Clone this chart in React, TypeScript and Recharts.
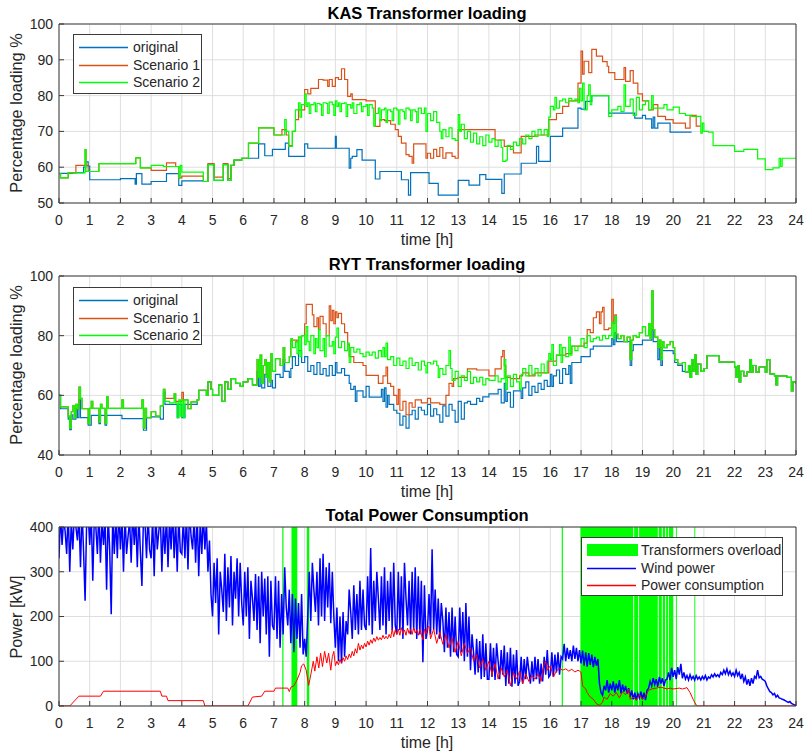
import React from 'react';
import {
  ComposedChart,
  Line,
  XAxis,
  YAxis,
  CartesianGrid,
  ReferenceArea,
  ReferenceLine
} from 'recharts';

type Pt = [number, number];

const FONT = '"Liberation Sans", Arial, Helvetica, sans-serif';
const INK = '#262626';
const AXIS = '#3a3a3a';
const GRID = '#dedede';

const C_ORIG = '#0072BD';
const C_S1 = '#D95319';
const C_S2 = '#00FF00';
const C_WIND = '#0000FF';
const C_LOAD = '#FF0000';
const C_OVER = '#00FF00';

const hourTicks = [0, 1, 2, 3, 4, 5, 6, 7, 8, 9, 10, 11, 12, 13, 14, 15, 16, 17, 18, 19, 20, 21, 22, 23, 24];
const kasTicks = [50, 60, 70, 80, 90, 100];
const rytTicks = [40, 60, 80, 100];
const powerTicks = [0, 100, 200, 300, 400];

// ---- KAS transformer loading [%] (time [h], value) ----
const kasOriginal: Pt[] = [
  [0, 58.3], [0.45, 58.5], [0.8, 60], [0.87, 61.5], [0.95, 60.3], [1.0, 56.5], [2.0, 56.8], [2.48, 55.3],
  [2.52, 58.2], [2.7, 55.3], [3.0, 56], [3.5, 58.2], [3.9, 54.9], [4.0, 56.2], [4.7, 56], [4.85, 60.7],
  [5.05, 56.3], [5.35, 60.7], [5.5, 56.3], [5.6, 60.5], [5.7, 62], [5.95, 62.5], [6.5, 66.5], [6.7, 63.2],
  [6.95, 65], [7.37, 66.7], [7.48, 63], [8.0, 66.5], [8.1, 65.3], [9.0, 68.6], [9.03, 65.3], [9.45, 59.7],
  [9.5, 62.5], [9.55, 63], [9.7, 64.9], [9.87, 62], [10.3, 56.7], [10.45, 58.8], [11.15, 56.5], [11.38, 52.2],
  [11.45, 58.5], [12.05, 55.5], [12.35, 52.2], [13, 56.3], [13.35, 55], [13.7, 57.9], [13.9, 56.6], [14.42, 52.7],
  [14.5, 58.1], [15.05, 61.1], [15.55, 65.8], [15.62, 61.6], [16, 68.6], [16.4, 70.9], [16.9, 76.5], [17, 76.2],
  [17.15, 78.4], [17.35, 80], [17.9, 75.1], [18.75, 73.7], [19, 74.5], [19.1, 73.5], [19.3, 70.9], [19.35, 74],
  [19.4, 70.9], [19.5, 72.3], [19.9, 69.8], [20.6, 69.8]
];

const kasScenario1: Pt[] = [
  [0, 58.2], [0.05, 57], [0.3, 58.4], [0.55, 60.5], [0.85, 64.9], [0.88, 60.5], [0.95, 58.8], [1.3, 61],
  [2.5, 62.6], [2.65, 59.8], [3.0, 59.1], [3.5, 61.2], [3.8, 60.2], [3.9, 57], [4.0, 57.5], [4.7, 56],
  [4.85, 61], [5.05, 57.2], [5.35, 61], [5.5, 56.8], [5.6, 60.5], [5.7, 62], [5.95, 62.5], [6.17, 66.7],
  [6.5, 71], [7.0, 69], [7.26, 70.5], [7.4, 69], [7.48, 66], [7.6, 70], [7.7, 73.3], [7.8, 76],
  [8.0, 81.7], [8.1, 80.5], [8.2, 82], [8.45, 84.5], [8.6, 84.3], [8.75, 82.6], [8.8, 84.5], [8.9, 82.6],
  [9.0, 85], [9.1, 84.5], [9.2, 87.5], [9.3, 84.5], [9.4, 79.8], [9.5, 80.5], [9.55, 78.9], [10.0, 78.5],
  [10.3, 71.4], [10.45, 73.3], [10.6, 73], [10.8, 72], [10.95, 70.5], [11.05, 68.6], [11.15, 66.7], [11.3, 63.5],
  [11.4, 63], [11.5, 61.1], [11.55, 66.5], [11.95, 62.5], [12.0, 63.9], [12.1, 62.5], [12.2, 65], [12.3, 63],
  [12.4, 65.5], [12.5, 62.5], [12.6, 64], [12.8, 63], [12.9, 62.5], [13.0, 70.5], [13.65, 70.5], [14.2, 67.6],
  [14.5, 65.8], [14.8, 64], [15.05, 68.6], [15.5, 69], [15.95, 73.3], [16.2, 75], [16.4, 77], [16.6, 78.5],
  [16.9, 83.5], [17.0, 92.4], [17.05, 86], [17.1, 89.6], [17.25, 86.4], [17.35, 92.9], [17.5, 91], [17.7, 89.5],
  [17.85, 88.2], [17.9, 86.4], [18.1, 84.5], [18.4, 87.8], [18.45, 84], [18.6, 87], [18.7, 83.5], [18.85, 80.5],
  [19.0, 78.5], [19.2, 76], [19.35, 77.5], [19.5, 74.2], [19.75, 73.3], [20.0, 72.3], [20.2, 72.3], [20.4, 70.9],
  [20.55, 74.5], [20.75, 71.5], [20.9, 71.5]
];

const kasScenario2: Pt[] = [
  [0, 58.2], [0.05, 57], [0.3, 58.4], [0.85, 64.9], [0.88, 58.8], [1.3, 61], [2.5, 62.6], [2.65, 59.8],
  [3.0, 60.5], [3.4, 60.2], [3.9, 57], [3.95, 60.5], [4.0, 58.6], [4.7, 56], [4.85, 60.7], [5.05, 56.3],
  [5.35, 60.7], [5.5, 56.3], [5.6, 60.5], [5.7, 62], [5.95, 62.5], [6.17, 66.7], [6.5, 71], [7.0, 69],
  [7.35, 73.3], [7.4, 70], [7.48, 65.8], [7.6, 70], [7.7, 76], [7.8, 78], [7.85, 74], [7.9, 77.5],
  [8.0, 80.5], [8.05, 77], [8.1, 78], [8.15, 75], [8.2, 77.5], [8.3, 78], [8.35, 75.5], [8.4, 77.8],
  [8.5, 77.5], [8.55, 74.5], [8.6, 78], [8.7, 77.8], [8.75, 75], [8.8, 78.2], [8.9, 77.5], [8.95, 74.5],
  [9.0, 78.5], [9.05, 77], [9.1, 78], [9.15, 75.5], [9.2, 77.8], [9.3, 78], [9.35, 74.2], [9.4, 77.5],
  [9.5, 76.5], [9.55, 78], [9.6, 75], [9.7, 77.5], [9.8, 78], [9.85, 75.5], [9.9, 77], [10.0, 77.5],
  [10.05, 74.5], [10.1, 77.5], [10.2, 76.5], [10.25, 71.5], [10.3, 75], [10.4, 76.5], [10.45, 73], [10.5, 76],
  [10.6, 76.5], [10.65, 72.5], [10.7, 76], [10.8, 75.5], [10.85, 73], [10.9, 76.5], [11.0, 76], [11.05, 72],
  [11.1, 76], [11.2, 75.5], [11.25, 73.5], [11.3, 76.5], [11.4, 76], [11.45, 73], [11.5, 76], [11.6, 75.5],
  [11.65, 72.5], [11.7, 76.5], [11.8, 75], [11.9, 76.5], [11.95, 70], [12.0, 75], [12.1, 73], [12.2, 75.5],
  [12.3, 72.5], [12.4, 70], [12.45, 68], [12.5, 70.5], [12.6, 68.5], [12.7, 71], [12.8, 68], [12.9, 67.5],
  [13.0, 74.7], [13.05, 70], [13.1, 72], [13.2, 68], [13.3, 70], [13.4, 67], [13.5, 69.5], [13.6, 66.5],
  [13.7, 68.5], [13.8, 66], [13.9, 69], [14.0, 67], [14.1, 68], [14.2, 65.8], [14.3, 67.5], [14.4, 65.5],
  [14.45, 61.6], [14.55, 62], [14.6, 66], [14.7, 65], [14.8, 67], [14.9, 66], [15.0, 68], [15.1, 66.5],
  [15.2, 69], [15.3, 68], [15.4, 70], [15.5, 68.6], [15.6, 70.5], [15.7, 69], [15.8, 70.5], [15.9, 68.6],
  [15.95, 74], [16.0, 77], [16.1, 76], [16.15, 79.5], [16.2, 76.5], [16.3, 78.5], [16.4, 79], [16.5, 78],
  [16.6, 79.2], [16.7, 78.5], [16.8, 79], [16.9, 78], [16.95, 82], [17.0, 78.5], [17.05, 83.5], [17.1, 76],
  [17.2, 80], [17.25, 83], [17.3, 77.5], [17.35, 80], [17.9, 74.2], [18.0, 76], [18.2, 77], [18.3, 75.5],
  [18.4, 83], [18.45, 77], [18.6, 79], [18.7, 74.5], [18.8, 79.5], [18.9, 76], [19.0, 77.5], [19.1, 78.5],
  [19.2, 76], [19.3, 80], [19.35, 76.5], [19.5, 76.5], [19.7, 77.5], [19.8, 76], [20.0, 76.8], [20.2, 75],
  [20.4, 74.5], [20.6, 74.2], [20.9, 69.5], [20.95, 72.3], [21.0, 70], [21.15, 69.8], [21.3, 66], [22.0, 64.4],
  [22.3, 65], [22.75, 62.3], [23.0, 59.3], [23.25, 59.8], [23.45, 62.5], [23.5, 60.2], [23.55, 62.5], [24, 62.5]
];

// ---- RYT transformer loading [%] ----
const rytScenario2: Pt[] = [
  [0, 60], [0.05, 56.1], [0.3, 53], [0.35, 49], [0.4, 54.5], [0.45, 56.5], [0.5, 52.5], [0.55, 57],
  [0.6, 55.5], [0.65, 62.8], [0.7, 59], [0.75, 55.5], [0.95, 50.5], [1.0, 55.6], [1.05, 58], [1.1, 55.6],
  [1.3, 51], [1.35, 57], [1.4, 55.6], [1.5, 50.5], [1.55, 59.5], [1.6, 55.6], [2.05, 58.5], [2.1, 55.6],
  [2.7, 58.5], [2.75, 49], [2.8, 55.6], [2.85, 52.5], [3.0, 54.5], [3.15, 53], [3.3, 56.5], [3.4, 62],
  [3.45, 58], [3.6, 57.5], [3.75, 60.5], [3.8, 57.5], [3.85, 52.5], [3.9, 58.5], [3.95, 53], [4.0, 58.5],
  [4.05, 52.5], [4.1, 58.5], [4.2, 55.5], [4.3, 57.8], [4.5, 58.5], [4.55, 61.7], [4.8, 60], [4.85, 64.5],
  [4.95, 62], [5.0, 60], [5.2, 63.5], [5.3, 58], [5.4, 64.5], [5.5, 62], [5.6, 65.6], [5.75, 64],
  [5.9, 63], [6.0, 64.5], [6.15, 65.6], [6.3, 63.5], [6.45, 72], [6.5, 66], [6.55, 73.5], [6.6, 64],
  [6.65, 70], [6.7, 72], [6.75, 66], [6.8, 71], [6.85, 64.5], [6.9, 74], [6.95, 68], [7.05, 72.3],
  [7.2, 70], [7.3, 76], [7.35, 71], [7.5, 73], [7.55, 79], [7.6, 76], [7.7, 78], [7.75, 74],
  [7.8, 79.5], [7.85, 73], [7.9, 80], [8.0, 77], [8.05, 83], [8.1, 78], [8.15, 75], [8.2, 80],
  [8.3, 74], [8.35, 79], [8.4, 76], [8.45, 82], [8.5, 75], [8.6, 79], [8.65, 73], [8.7, 80],
  [8.8, 76.5], [8.9, 78], [8.95, 74], [9.0, 79.5], [9.05, 82.5], [9.1, 76], [9.2, 78], [9.3, 75],
  [9.4, 77.5], [9.45, 71], [9.5, 76], [9.6, 74.5], [9.7, 75.5], [9.8, 74], [9.9, 73], [10.0, 74.5],
  [10.1, 73.5], [10.2, 74.5], [10.3, 72.5], [10.4, 75], [10.5, 73], [10.55, 76], [10.6, 73], [10.65, 77.5],
  [10.7, 72], [10.8, 73], [10.9, 70], [11.0, 72.5], [11.1, 70], [11.2, 71.5], [11.3, 69], [11.4, 72.5],
  [11.5, 70], [11.6, 71], [11.7, 68.5], [11.8, 71.5], [11.9, 70], [11.95, 67.5], [12.0, 71], [12.1, 70.5],
  [12.2, 71.5], [12.3, 70], [12.35, 66], [12.4, 69], [12.5, 67], [12.6, 70], [12.7, 75], [12.75, 69],
  [12.8, 65], [12.9, 68], [13.0, 63], [13.1, 66.5], [13.2, 65], [13.3, 68], [13.4, 64], [13.5, 66],
  [13.6, 64.5], [13.7, 66], [13.8, 63.5], [13.9, 65.6], [14.0, 65], [14.2, 66.5], [14.3, 64.5], [14.4, 65.6],
  [14.5, 72], [14.55, 62], [14.6, 66.5], [14.7, 63], [14.8, 67], [14.9, 64.5], [15.0, 62], [15.05, 67],
  [15.1, 69], [15.2, 66.5], [15.3, 70], [15.4, 67], [15.5, 69], [15.6, 66.5], [15.7, 70.5], [15.8, 67.5],
  [15.9, 71.5], [15.95, 74], [16.0, 72], [16.05, 77], [16.1, 70], [16.2, 73.5], [16.3, 77], [16.35, 71],
  [16.4, 76], [16.5, 73], [16.6, 79.5], [16.65, 73.5], [16.7, 76.5], [16.8, 75], [16.9, 76.5], [17.0, 79],
  [17.1, 76], [17.2, 80], [17.3, 78], [17.4, 79], [17.5, 79.5], [17.6, 78.5], [17.7, 80], [17.8, 79],
  [17.9, 80], [18.0, 84.5], [18.05, 79], [18.1, 86.5], [18.15, 80.5], [18.2, 79], [18.3, 80], [18.4, 78],
  [18.5, 79.5], [18.6, 72], [18.65, 78.5], [18.7, 80], [18.8, 79.5], [18.9, 81], [19.0, 83], [19.1, 80],
  [19.2, 84], [19.25, 79], [19.3, 95], [19.35, 82], [19.4, 79.5], [19.5, 76], [19.55, 78.5], [19.6, 72],
  [19.65, 78], [19.7, 76], [19.8, 77], [19.9, 78], [20.0, 76], [20.05, 72], [20.15, 70.5], [20.3, 71],
  [20.4, 67.8], [20.5, 70], [20.55, 66], [20.6, 72], [20.65, 68], [20.7, 73.5], [20.75, 67], [20.8, 70.5],
  [20.9, 68], [21.0, 69], [21.1, 73.3], [21.5, 71.1], [22.0, 69.5], [22.05, 66], [22.1, 70], [22.15, 64.5],
  [22.2, 68], [22.3, 66.5], [22.4, 67.8], [22.5, 72], [22.55, 67.8], [22.6, 70], [22.7, 67.8], [22.8, 69.5],
  [23.0, 67.8], [23.05, 72], [23.15, 67.2], [23.3, 66.5], [23.35, 63.5], [23.4, 66.5], [23.7, 66], [23.85, 61.5],
  [23.9, 64.5], [24, 64]
];

// stretches where the original run sits below Scenario 2
const rytOriginalEarly: Pt[] = [
  [0, 60], [0.05, 55.5], [0.3, 52], [0.35, 48.5], [0.4, 53.5], [0.45, 52], [0.55, 55.5], [0.6, 52.5],
  [0.65, 58.5], [0.7, 52.5], [0.95, 50], [1.05, 53.3], [1.3, 50.5], [1.35, 53.3], [1.5, 50], [1.55, 53.3],
  [2.05, 52.2], [2.75, 48.3], [2.85, 52.5], [3.0, 52.8], [3.3, 52], [3.4, 61], [3.45, 57], [3.85, 52.5],
  [3.9, 57], [4.0, 52.5], [4.1, 57], [4.5, 58.5]
];

const rytOriginalDay: Pt[] = [
  [6.45, 68], [6.5, 63], [6.55, 66], [6.6, 62.5], [6.7, 67], [6.8, 63], [6.9, 65], [6.95, 62.5],
  [7.05, 67], [7.2, 66], [7.3, 72], [7.35, 68], [7.5, 66], [7.55, 69], [7.6, 73], [7.7, 70],
  [7.8, 75], [7.9, 71], [8.0, 73], [8.1, 68], [8.2, 70], [8.3, 67], [8.4, 71], [8.5, 67],
  [8.6, 69], [8.7, 66.5], [8.8, 70], [8.9, 66.7], [9.0, 71], [9.05, 67.5], [9.2, 69], [9.3, 66.7],
  [9.45, 64], [9.5, 62], [9.6, 63], [9.65, 58], [9.7, 61.5], [9.9, 59.4], [10.0, 63], [10.1, 59.4],
  [10.5, 62], [10.55, 58], [10.6, 62.5], [10.65, 56], [10.7, 60], [10.75, 57], [10.9, 55], [11.0, 54],
  [11.1, 50], [11.2, 53], [11.3, 49], [11.4, 53.5], [11.5, 55], [11.6, 52], [11.7, 56], [11.8, 55],
  [11.9, 53.5], [12.0, 57], [12.1, 53], [12.2, 55.5], [12.3, 53.5], [12.4, 51], [12.5, 56.5], [12.6, 53],
  [12.7, 57], [12.8, 55], [12.9, 51], [13.0, 58], [13.1, 52], [13.2, 57.5], [13.3, 58], [13.4, 57],
  [13.6, 59], [13.7, 58], [13.8, 59.5], [14.0, 60.5], [14.3, 62], [14.4, 57.5], [14.5, 64], [14.55, 58],
  [14.6, 61], [14.7, 56], [14.8, 61.5], [15.0, 61.5], [15.05, 59], [15.1, 62.5], [15.2, 64.5], [15.3, 60],
  [15.4, 63], [15.5, 61], [15.6, 64], [15.7, 62], [15.8, 65], [15.9, 63], [16.0, 67], [16.05, 63],
  [16.1, 66.5], [16.2, 68.5], [16.3, 64], [16.4, 69], [16.5, 67], [16.6, 70], [16.65, 64], [16.7, 71],
  [17.0, 73], [17.3, 75.5], [17.4, 76.5], [18.0, 79], [18.05, 77], [18.1, 81], [18.15, 78], [18.3, 78],
  [18.6, 70], [18.65, 75], [18.7, 77], [19.0, 78.5], [19.3, 82], [19.35, 78], [19.5, 72], [19.55, 76],
  [19.6, 70], [19.65, 75], [19.8, 75], [20.0, 74], [20.05, 71], [20.15, 70], [20.3, 68], [20.4, 67.8]
];

// stretches where Scenario 1 departs from Scenario 2
const rytScenario1Early: Pt[] = [
  [3.35, 56.5], [3.4, 62], [3.45, 59], [3.75, 60.5], [3.8, 58], [4.0, 61], [4.05, 58.5]
];

const rytScenario1Day: Pt[] = [
  [7.5, 73], [7.55, 78.5], [7.75, 78], [7.8, 79.5], [7.9, 80], [8.0, 84], [8.05, 90.5], [8.25, 87],
  [8.3, 83], [8.4, 86], [8.45, 82], [8.5, 86.5], [8.6, 84], [8.7, 80], [8.8, 90], [8.85, 85],
  [8.9, 88.5], [8.95, 84], [9.0, 88], [9.05, 86], [9.1, 87.5], [9.2, 84], [9.3, 81], [9.4, 77],
  [9.45, 73], [9.6, 71], [9.9, 70], [10.0, 66.7], [10.4, 64], [10.55, 66.5], [10.65, 69.5], [10.7, 64],
  [10.8, 63], [10.9, 60], [11.0, 57], [11.05, 62], [11.1, 55], [11.2, 58], [11.3, 53.5], [11.4, 57.5],
  [11.5, 56], [11.6, 58.5], [11.8, 57.5], [12.0, 59], [12.1, 57.5], [12.4, 57], [12.6, 60], [12.7, 64],
  [12.8, 63], [12.85, 65.6], [13.0, 66], [13.3, 68.9], [13.6, 68.5], [14.0, 66.5], [14.2, 68.9], [14.4, 73],
  [14.45, 75], [14.5, 70], [14.55, 66], [14.7, 65.6], [15.0, 66.5], [15.1, 67.5], [15.3, 66.5], [15.5, 67.5],
  [15.95, 71.5], [16.2, 73.5], [16.5, 74], [16.7, 76.5], [17.1, 77.5], [17.2, 82], [17.3, 81], [17.4, 86],
  [17.5, 88], [17.6, 84], [17.65, 88], [17.7, 89.5], [17.75, 82], [17.9, 82.5], [18.0, 92.2], [18.05, 84],
  [18.1, 87], [18.15, 80.5], [18.2, 79]
];

// ---- Total power [kW] ----
// wind power sampled every 3 minutes (0.05 h), one row per hour
const windPower: number[] = [
  330, 430, 360, 420, 390, 340, 440, 300, 415, 350, 430, 400, 370, 425, 310, 440, 345, 235, 410, 430,
  360, 430, 280, 420, 400, 340, 440, 320, 415, 360, 420, 260, 430, 350, 205, 425, 340, 420, 330, 440,
  350, 420, 300, 430, 340, 380, 415, 320, 440, 360, 420, 310, 430, 345, 268, 420, 410, 330, 430, 350,
  330, 420, 290, 440, 350, 390, 425, 300, 410, 340, 430, 310, 420, 350, 440, 330, 415, 300, 430, 345,
  340, 420, 330, 430, 305, 440, 380, 350, 420, 320, 430, 290, 415, 340, 430, 350, 410, 300, 370, 250,
  200, 320, 230, 330, 160, 300, 260, 210, 340, 190, 310, 220, 335, 180, 300, 240, 330, 200, 320, 230,
  180, 300, 200, 310, 150, 280, 240, 190, 295, 170, 290, 140, 300, 200, 285, 160, 290, 110, 280, 180,
  170, 290, 150, 280, 130, 250, 160, 310, 220, 180, 260, 140, 250, 120, 240, 150, 230, 130, 250, 115,
  150, 110, 200, 300, 190, 320, 260, 210, 300, 180, 330, 200, 340, 190, 310, 220, 320, 185, 300, 200,
  130, 220, 100, 200, 95, 210, 110, 190, 160, 260, 210, 150, 270, 170, 250, 160, 280, 170, 260, 180,
  170, 290, 180, 353, 160, 280, 190, 300, 240, 170, 290, 180, 310, 160, 280, 190, 300, 170, 320, 180,
  160, 300, 170, 290, 150, 320, 240, 180, 280, 160, 300, 170, 310, 150, 290, 160, 280, 98, 270, 150,
  170, 250, 160, 350, 170, 260, 160, 240, 150, 230, 190, 120, 220, 130, 210, 110, 220, 120, 200, 115,
  110, 220, 120, 210, 100, 230, 110, 200, 80, 160, 120, 70, 150, 75, 145, 60, 160, 65, 140, 60,
  60, 140, 65, 130, 58, 140, 100, 60, 125, 70, 135, 45, 120, 50, 130, 43, 115, 50, 125, 45,
  55, 110, 50, 105, 60, 110, 80, 50, 100, 55, 110, 60, 105, 50, 95, 55, 110, 70, 125, 65,
  70, 120, 65, 115, 75, 120, 70, 110, 105, 139, 100, 130, 105, 125, 100, 135, 105, 130, 100, 125,
  95, 124, 90, 120, 88, 118, 92, 115, 87, 110, 90, 105, 50, 30, 24, 45, 35, 58, 30, 50,
  35, 55, 30, 50, 35, 58, 28, 48, 32, 45, 28, 40, 20, 35, 15, 30, 13, 28, 18, 32,
  15, 30, 13, 35, 40, 55, 45, 62, 48, 60, 43, 65, 50, 62, 45, 58, 60, 75, 58, 85,
  65, 80, 60, 87, 70, 94, 62, 75, 60, 68, 58, 70, 60, 66, 58, 68, 60, 65, 58, 66,
  60, 68, 58, 65, 62, 70, 65, 72, 66, 70, 65, 75, 70, 80, 72, 83, 70, 78, 68, 74,
  66, 80, 68, 75, 60, 72, 55, 65, 48, 60, 45, 62, 50, 66, 62, 80, 63, 66, 60, 58,
  55, 45, 38, 32, 30, 25, 28, 20, 24, 18, 17, 15, 14, 12, 10, 8, 10, 6, 4, 2,
  2
];
const WIND_STEP = 0.05;

const consumption: Pt[] = [
  [0, 0], [0.35, 0], [0.65, 22], [1.35, 22], [1.45, 33], [3.3, 33], [3.35, 22], [3.5, 22],
  [3.55, 12], [4.7, 12], [4.75, 0], [6.15, 0], [6.3, 20], [6.6, 22], [6.7, 33], [7.0, 33],
  [7.05, 40], [7.45, 40], [7.5, 32], [7.55, 42], [7.65, 45], [7.75, 58], [7.85, 75], [7.9, 90],
  [7.97, 94], [8.05, 80], [8.13, 46], [8.2, 70], [8.28, 100], [8.33, 78], [8.4, 110], [8.46, 85],
  [8.52, 118], [8.58, 88], [8.65, 122], [8.72, 96], [8.78, 118], [8.85, 80], [8.9, 110], [8.95, 122],
  [9.0, 90], [9.05, 100], [9.1, 92], [9.15, 104], [9.2, 96], [9.25, 108], [9.3, 100], [9.35, 112],
  [9.4, 104], [9.45, 116], [9.5, 108], [9.55, 122], [9.6, 112], [9.65, 128], [9.7, 118], [9.75, 140],
  [9.8, 125], [9.85, 136], [9.9, 128], [9.95, 140], [10.0, 132], [10.05, 145], [10.1, 136], [10.15, 148],
  [10.2, 140], [10.25, 152], [10.3, 144], [10.35, 155], [10.4, 147], [10.45, 153], [10.5, 148], [10.55, 158],
  [10.6, 150], [10.65, 156], [10.7, 150], [10.75, 160], [10.8, 152], [10.85, 172], [10.9, 155], [10.95, 170],
  [11.0, 160], [11.05, 172], [11.1, 158], [11.15, 175], [11.2, 162], [11.25, 170], [11.3, 158], [11.35, 174],
  [11.4, 162], [11.45, 172], [11.5, 160], [11.55, 175], [11.6, 163], [11.65, 170], [11.7, 158], [11.75, 172],
  [11.8, 160], [11.85, 148], [11.9, 172], [11.95, 160], [12.0, 175], [12.05, 178], [12.1, 150], [12.2, 172],
  [12.3, 140], [12.4, 165], [12.5, 138], [12.6, 160], [12.7, 130], [12.8, 152], [12.9, 120], [13.0, 145],
  [13.1, 112], [13.2, 140], [13.3, 118], [13.4, 130], [13.5, 100], [13.6, 115], [13.7, 85], [13.8, 105],
  [13.9, 80], [14.0, 100], [14.1, 70], [14.2, 95], [14.3, 60], [14.4, 85], [14.5, 65], [14.6, 80],
  [14.7, 45], [14.8, 75], [14.9, 60], [15.0, 78], [15.1, 50], [15.2, 72], [15.3, 55], [15.4, 68],
  [15.5, 60], [15.6, 72], [15.7, 55], [15.8, 95], [15.85, 100], [15.9, 80], [16.0, 90], [16.1, 65],
  [16.2, 78], [16.3, 85], [16.4, 80], [16.5, 83], [16.6, 78], [16.7, 82], [16.8, 76], [16.9, 80],
  [16.95, 78], [17.0, 75], [17.05, 45], [17.15, 38], [17.2, 30], [17.3, 20], [17.4, 15], [17.5, 5],
  [17.6, 2], [17.7, 8], [17.75, 20], [17.85, 15], [17.95, 28], [18.05, 22], [18.15, 30], [18.25, 18],
  [18.35, 32], [18.45, 25], [18.55, 38], [18.6, 15], [18.7, 20], [18.8, 13], [18.9, 25], [19.0, 15],
  [19.1, 22], [19.2, 35], [19.3, 38], [19.45, 40], [19.6, 42], [19.8, 38], [19.9, 40], [20.0, 38],
  [20.2, 40], [20.3, 38], [20.45, 41], [20.55, 30], [20.65, 15], [20.75, 2], [20.8, 0], [24, 0]
];

// hours in which a transformer was overloaded
const overload: Pt[] = [
  [7.27, 7.31], [7.57, 7.76], [8.07, 8.15], [16.37, 16.41], [16.98, 18.7], [18.73, 18.86],
  [18.89, 19.5], [19.53, 19.63], [19.66, 19.74], [19.77, 19.83], [19.86, 20.0], [20.09, 20.12],
  [20.69, 20.72]
];

// replace the part of a base series covered by a patch
function overlay(base: Pt[], patch: Pt[]): Pt[] {
  const a = patch[0][0];
  const b = patch[patch.length - 1][0];
  return [...base.filter(p => p[0] < a), ...patch, ...base.filter(p => p[0] > b)];
}

const rows = (pts: Pt[]) => pts.map(([t, v]) => ({ t, v }));

const rytOriginal = overlay(overlay(rytScenario2, rytOriginalEarly), rytOriginalDay);
const rytScenario1 = overlay(overlay(rytScenario2, rytScenario1Early), rytScenario1Day);
const windRows = windPower.map((v, i) => ({ t: i * WIND_STEP, v }));

const tickStyle = { fill: INK, fontSize: 14 };

function frame(yDomain: [number, number], yTicks: number[]) {
  return [
    <CartesianGrid key="grid" stroke={GRID} />,
    <XAxis
      key="x"
      dataKey="t"
      type="number"
      domain={[0, 24]}
      ticks={hourTicks}
      interval={0}
      allowDataOverflow
      height={20}
      stroke={AXIS}
      tick={tickStyle}
      tickSize={-5}
      tickMargin={17}
    />,
    <YAxis
      key="y"
      type="number"
      domain={yDomain}
      ticks={yTicks}
      interval={0}
      allowDataOverflow
      width={59}
      stroke={AXIS}
      tick={tickStyle}
      tickSize={-5}
      tickMargin={11}
    />
  ];
}

function box(yMax: number) {
  return [
    <ReferenceLine key="top" y={yMax} stroke={AXIS} ifOverflow="visible" />,
    <ReferenceLine key="right" x={24} stroke={AXIS} ifOverflow="visible" />
  ];
}

const lineProps = {
  dataKey: 'v',
  dot: false,
  activeDot: false,
  isAnimationActive: false,
  strokeWidth: 1.2
} as const;

const CHART_W = 805;
const CHART_H = 240;
const MARGIN = { top: 24, right: 9, bottom: 17, left: 0 };

interface LegendItem {
  label: string;
  color: string;
  patch?: boolean;
}

const LEGEND_ROWS = [13, 31, 48];

function LegendBox({ left, top, width, height, items }: {
  left: number; top: number; width: number; height: number; items: LegendItem[];
}) {
  return (
    <div style={{
      position: 'absolute', left, top, width, height, boxSizing: 'border-box',
      border: `1px solid ${AXIS}`, background: '#fff'
    }}>
      <svg width={width - 2} height={height - 2} style={{ position: 'absolute', left: 0, top: 0 }}>
        {items.map((it, i) =>
          it.patch ? (
            <rect key={it.label} x={5} y={LEGEND_ROWS[i] - 7} width={51} height={12} fill={it.color} />
          ) : (
            <line key={it.label} x1={5} x2={54} y1={LEGEND_ROWS[i] - 0.5} y2={LEGEND_ROWS[i] - 0.5}
              stroke={it.color} strokeWidth={1.3} />
          )
        )}
      </svg>
      {items.map((it, i) => (
        <div key={it.label} style={{
          position: 'absolute', left: 59, top: LEGEND_ROWS[i] - 10, fontSize: 14, lineHeight: '18px',
          color: INK, whiteSpace: 'nowrap'
        }}>{it.label}</div>
      ))}
    </div>
  );
}

function Text({ x, y, size, bold, rotate, children }: {
  x: number; y: number; size: number; bold?: boolean; rotate?: boolean; children: React.ReactNode;
}) {
  return (
    <div style={{
      position: 'absolute', left: x, top: y, fontSize: size, fontWeight: bold ? 700 : 400,
      color: bold ? '#000' : INK, whiteSpace: 'nowrap', lineHeight: 1,
      transform: `translate(-50%, -50%)${rotate ? ' rotate(-90deg)' : ''}`
    }}>{children}</div>
  );
}

const loadingLegend: LegendItem[] = [
  { label: 'original', color: C_ORIG },
  { label: 'Scenario 1', color: C_S1 },
  { label: 'Scenario 2', color: C_S2 }
];

const powerLegend: LegendItem[] = [
  { label: 'Transformers overload', color: C_OVER, patch: true },
  { label: 'Wind power', color: C_WIND },
  { label: 'Power consumption', color: C_LOAD }
];

export default function App() {
  const cx = 427;
  return (
    <div style={{
      position: 'fixed', left: 0, top: 0, width: 805, height: 756, overflow: 'hidden',
      fontFamily: FONT, background: '#fff'
    }}>
      {/* KAS */}
      <div style={{ position: 'absolute', left: 0, top: 0 }}>
        <ComposedChart width={CHART_W} height={CHART_H} margin={MARGIN}>
          {frame([50, 100], kasTicks)}
          <Line {...lineProps} data={rows(kasOriginal)} type="stepAfter" stroke={C_ORIG} name="original" />
          <Line {...lineProps} data={rows(kasScenario1)} type="stepAfter" stroke={C_S1} name="Scenario 1" />
          <Line {...lineProps} data={rows(kasScenario2)} type="stepAfter" stroke={C_S2} name="Scenario 2" />
          {box(100)}
        </ComposedChart>
      </div>
      <Text x={cx} y={13} size={16.5} bold>KAS Transformer loading</Text>
      <Text x={16} y={113} size={16.3} rotate>Percentage loading %</Text>
      <Text x={cx} y={240} size={16}>time [h]</Text>
      <LegendBox left={73} top={34} width={129} height={60} items={loadingLegend} />

      {/* RYT */}
      <div style={{ position: 'absolute', left: 0, top: 252 }}>
        <ComposedChart width={CHART_W} height={CHART_H} margin={MARGIN}>
          {frame([40, 100], rytTicks)}
          <Line {...lineProps} data={rows(rytOriginal)} type="stepAfter" stroke={C_ORIG} name="original" />
          <Line {...lineProps} data={rows(rytScenario1)} type="stepAfter" stroke={C_S1} name="Scenario 1" />
          <Line {...lineProps} data={rows(rytScenario2)} type="stepAfter" stroke={C_S2} name="Scenario 2" />
          {box(100)}
        </ComposedChart>
      </div>
      <Text x={cx} y={264} size={16.5} bold>RYT Transformer loading</Text>
      <Text x={16} y={365} size={16.3} rotate>Percentage loading %</Text>
      <Text x={cx} y={492} size={16}>time [h]</Text>
      <LegendBox left={73} top={287} width={129} height={58} items={loadingLegend} />

      {/* total power */}
      <div style={{ position: 'absolute', left: 0, top: 503 }}>
        <ComposedChart width={CHART_W} height={CHART_H} margin={MARGIN}>
          {frame([0, 400], powerTicks)}
          {overload.map(([a, b]) => (
            <ReferenceArea key={a} x1={a} x2={b} y1={0} y2={400} fill={C_OVER} fillOpacity={1} stroke="none" />
          ))}
          <Line {...lineProps} data={windRows} type="linear" stroke={C_WIND} strokeWidth={1.5} name="Wind power" />
          <Line {...lineProps} data={rows(consumption)} type="linear" stroke={C_LOAD} strokeWidth={1} name="Power consumption" />
          {box(400)}
        </ComposedChart>
      </div>
      <Text x={cx} y={515} size={16.5} bold>Total Power Consumption</Text>
      <Text x={16} y={617} size={16.3} rotate>Power [kW]</Text>
      <Text x={cx} y={743} size={16}>time [h]</Text>
      <LegendBox left={581} top={537} width={202} height={59} items={powerLegend} />
    </div>
  );
}
